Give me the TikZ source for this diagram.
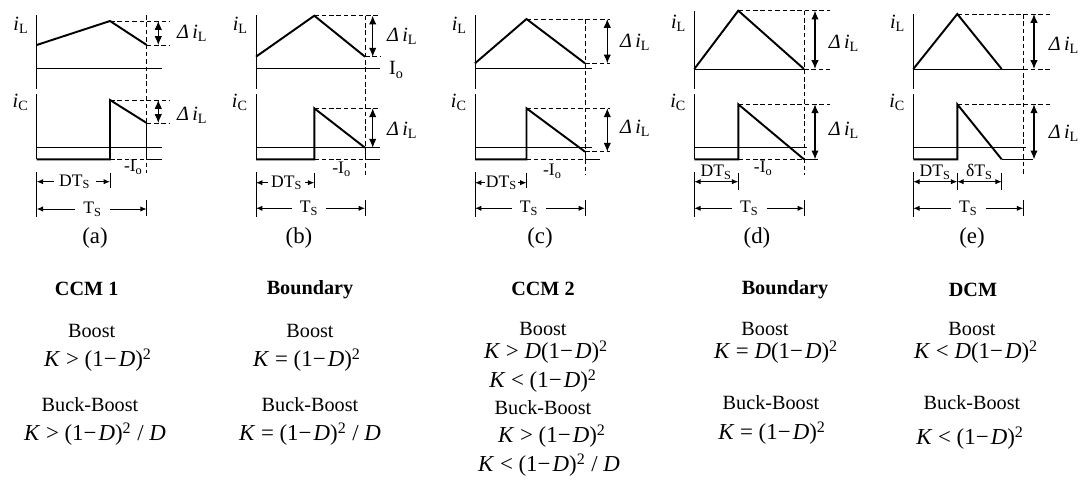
\documentclass[tikz,border=0pt]{standalone}
\usepackage{fontspec}
\setmainfont{Liberation Serif}
\usetikzlibrary{arrows.meta}
\newcommand{\iL}{\textit{i}\textsubscript{L}}
\newcommand{\iC}{\textit{i}\textsubscript{C}}
\newcommand{\dIL}{\textit{Δ\,i}\textsubscript{L}}
\newcommand{\Ts}{T\textsubscript{S}}
\newcommand{\DTs}{DT\textsubscript{S}}
\newcommand{\mIo}{-I\textsubscript{o}}
\newcommand{\Km}{\textit{K}}
\newcommand{\Dm}{\textit{D}}
\newcommand{\sqr}{\textsuperscript{2}}
\newcommand{\omD}{(1−\kern1.2pt\Dm)}
\tikzset{
  wave/.style={line width=1.1pt},
  thinl/.style={line width=0.55pt},
  guide/.style={line width=0.55pt,dash pattern=on 2.6pt off 1.6pt},
  swing/.style={line width=0.6pt,{Latex[length=5pt,width=4.2pt]}-{Latex[length=5pt,width=4.2pt]}},
  dimarr/.style={line width=0.55pt,-{Latex[length=3.6pt,width=3pt]}},
  dimboth/.style={line width=0.55pt,{Latex[length=3.6pt,width=3pt]}-{Latex[length=3.6pt,width=3pt]}},
  lbl/.style={font=\fontsize{11.5}{13}\selectfont,inner sep=1pt},
  dimtxt/.style={font=\fontsize{10}{12}\selectfont,inner ysep=1pt},
  panelcap/.style={font=\fontsize{13}{15}\selectfont},
  head/.style={font=\fontsize{11.5}{13}\selectfont\bfseries},
  body/.style={font=\fontsize{11.5}{13}\selectfont},
  formula/.style={font=\fontsize{13}{15}\selectfont}
}
\begin{document}
\begin{tikzpicture}[x=0.02cm,y=-0.02cm]
\useasboundingbox (0,0) rectangle (1083,480);

% (a)
\begin{scope}[shift={(36.7,0)}]
  \coordinate (Sa) at (0,45);
  \coordinate (Pa) at (73.3,21);
  \coordinate (Ea) at (110,45);
  \coordinate (Ca) at (73.3,100);
  \coordinate (Fa) at (110,123);
  \draw[thinl] (0,15) -- (0,89);
  \draw[thinl] (0,94) -- (0,159.3);
  \draw[thinl] (0,172) -- (0,217);
  \draw[thinl] (0,68.3) -- (125,68.3);
  \draw[thinl] (0,147.7) -- (125,147.7);
  \draw[thinl] (Fa) -- (110,159.3) -- (125,159.3);
  \draw[wave] (Sa) -- (Pa) -- (Ea);
  \draw[wave] (0,159.3) -- (73.3,159.3) -- (Ca) -- (Fa);
  \draw[guide] (Pa) -- (133.3,21);
  \draw[guide] (Ea) -- (133.3,45);
  \draw[guide] (Ca) -- (133.3,100);
  \draw[guide] (Fa) -- (133.3,123);
  \draw[guide] (73.3,159.3) -- (110,159.3);
  \draw[guide] (110,15) -- (110,173);
  \draw[swing] (121.6,21) -- (121.6,45);
  \draw[swing] (121.6,100) -- (121.6,123);
  \draw[thinl] (73.3,173) -- (73.3,188);
  \draw[thinl] (110,200) -- (110,216);
  \node[lbl,anchor=east] (iLa) at (-6,25) {\iL};
  \node[lbl,anchor=east] (iCa) at (-6,102) {\iC};
  \node[lbl,anchor=west] (dLa) at (138.3,33) {\dIL};
  \node[lbl,anchor=west] (dCa) at (138.3,115) {\dIL};
  \node[dimtxt] (Ioa) at (96.7,167) {\mIo};
  \node[dimtxt,inner xsep=3pt] (DTa) at (38,181.7) {\DTs};
  \draw[dimarr] (DTa.west) -- (0,181.7);
  \draw[dimarr] (DTa.east) -- (73.3,181.7);
  \node[dimtxt,inner xsep=4.5pt] (Ta) at (56,209) {\Ts};
  \draw[dimarr] (Ta.west) -- (0,209);
  \draw[dimarr] (Ta.east) -- (110,209);
  \node[panelcap] (capa) at (58.3,238) {(a)};
\end{scope}

% (b)
\begin{scope}[shift={(256,0)}]
  \coordinate (Sb) at (0,56.7);
  \coordinate (Pb) at (58.3,15.7);
  \coordinate (Eb) at (109,56.7);
  \coordinate (Cb) at (58.3,108.3);
  \coordinate (Fb) at (109,147.7);
  \draw[thinl] (0,15) -- (0,89);
  \draw[thinl] (0,94) -- (0,159.3);
  \draw[thinl] (0,172) -- (0,217);
  \draw[thinl] (0,68.3) -- (124,68.3);
  \draw[thinl] (0,147.7) -- (124,147.7);
  \draw[thinl] (Fb) -- (109,159.3) -- (124,159.3);
  \draw[wave] (Sb) -- (Pb) -- (Eb);
  \draw[wave] (0,159.3) -- (58.3,159.3) -- (Cb) -- (Fb);
  \draw[guide] (Pb) -- (124,15.7);
  \draw[guide] (Eb) -- (124,56.7);
  \draw[guide] (Cb) -- (124,108.3);
  \draw[guide] (58.3,159.3) -- (109,159.3);
  \draw[guide] (109,15.7) -- (109,175);
  \draw[swing] (116.7,15.7) -- (116.7,56.7);
  \draw[swing] (116.7,108.3) -- (116.7,147.7);
  \draw[thinl] (58.3,173) -- (58.3,188);
  \draw[thinl] (109,200) -- (109,216);
  \node[lbl,anchor=east] (iLb) at (-6,25) {\iL};
  \node[lbl,anchor=east] (iCb) at (-6,102) {\iC};
  \node[lbl,anchor=west] (Iob) at (131,70) {I\textsubscript{o}};
  \node[lbl,anchor=west] (dLb) at (129,36.7) {\dIL};
  \node[lbl,anchor=west] (dCb) at (129,130) {\dIL};
  \node[dimtxt] (mIob) at (85.7,169) {\mIo};
  \node[dimtxt,inner xsep=1.5pt] (DTb) at (30.7,182.7) {\DTs};
  \draw[dimarr] (DTb.west) -- (0,182.7);
  \draw[dimarr] (DTb.east) -- (58.3,182.7);
  \node[dimtxt,inner xsep=4.5pt] (Tb) at (53,208.3) {\Ts};
  \draw[dimarr] (Tb.west) -- (0,208.3);
  \draw[dimarr] (Tb.east) -- (109,208.3);
  \node[panelcap] (capb) at (43,238) {(b)};
\end{scope}

% (c)
\begin{scope}[shift={(475,0)}]
  \coordinate (Sc) at (0,63.3);
  \coordinate (Pc) at (51.5,19);
  \coordinate (Ec) at (110,63.3);
  \coordinate (Cc) at (51.5,108.3);
  \coordinate (Fc) at (110,151.7);
  \draw[thinl] (0,15) -- (0,89);
  \draw[thinl] (0,94) -- (0,159.3);
  \draw[thinl] (0,172) -- (0,217);
  \draw[thinl] (0,68.3) -- (117.3,68.3);
  \draw[thinl] (0,147.7) -- (117.3,147.7);
  \draw[thinl] (Fc) -- (110,159.3) -- (125,159.3);
  \draw[wave] (Sc) -- (Pc) -- (Ec);
  \draw[wave] (0,159.3) -- (51.5,159.3) -- (Cc) -- (Fc);
  \draw[guide] (Pc) -- (135,19);
  \draw[guide] (Ec) -- (135,63.3);
  \draw[guide] (Cc) -- (135,108.3);
  \draw[guide] (Fc) -- (135,151.7);
  \draw[guide] (51.5,159.3) -- (110,159.3);
  \draw[guide] (110,19) -- (110,175);
  \draw[swing] (132.3,19) -- (132.3,63.3);
  \draw[swing] (132.3,108.3) -- (132.3,151.7);
  \draw[thinl] (51.5,173) -- (51.5,188);
  \draw[thinl] (110,200) -- (110,216);
  \node[lbl,anchor=east] (iLc) at (-6,25) {\iL};
  \node[lbl,anchor=east] (iCc) at (-6,102) {\iC};
  \node[lbl,anchor=west] (dLc) at (143,42) {\dIL};
  \node[lbl,anchor=west] (dCc) at (143,128) {\dIL};
  \node[dimtxt] (mIoc) at (77.5,171) {\mIo};
  \node[dimtxt,inner xsep=0.5pt] (DTc) at (26.5,182.7) {\DTs};
  \draw[dimarr] (DTc.west) -- (0,182.7);
  \draw[dimarr] (DTc.east) -- (51.5,182.7);
  \node[dimtxt,inner xsep=4.5pt] (Tc) at (54,208.3) {\Ts};
  \draw[dimarr] (Tc.west) -- (0,208.3);
  \draw[dimarr] (Tc.east) -- (110,208.3);
  \node[panelcap] (capc) at (65,238) {(c)};
\end{scope}

% (d)
\begin{scope}[shift={(694.3,0)}]
  \coordinate (Sd) at (0,69);
  \coordinate (Pd) at (44,10.7);
  \coordinate (Ed) at (109.7,69);
  \coordinate (Cd) at (44,104.3);
  \coordinate (Fd) at (109.7,159.3);
  \draw[thinl] (0,10.7) -- (0,89);
  \draw[thinl] (0,94) -- (0,159.3);
  \draw[thinl] (0,172) -- (0,217);
  \draw[thinl] (Sd) -- (Ed);
  \draw[thinl] (0,147.7) -- (112.4,147.7);
  \draw[thinl] (Fd) -- (123.7,159.3);
  \draw[wave] (Sd) -- (Pd) -- (Ed);
  \draw[wave] (0,159.3) -- (44,159.3) -- (Cd) -- (Fd);
  \draw[guide] (Pd) -- (135.7,10.7);
  \draw[guide] (Ed) -- (135.7,69);
  \draw[guide] (Cd) -- (135.7,104.3);
  \draw[guide] (44,159.3) -- (Fd);
  \draw[guide] (109.7,10.7) -- (109.7,175);
  \draw[swing] (120.7,10.7) -- (120.7,69);
  \draw[swing] (120.7,104.3) -- (120.7,159.3);
  \draw[thinl] (44,173) -- (44,190);
  \draw[thinl] (109.7,200) -- (109.7,216);
  \node[lbl,anchor=east] (iLd) at (-6,23) {\iL};
  \node[lbl,anchor=east] (iCd) at (-6,102) {\iC};
  \node[lbl,anchor=west] (dLd) at (132.4,43) {\dIL};
  \node[lbl,anchor=west] (dCd) at (132.4,130) {\dIL};
  \node[dimtxt] (mIod) at (69,168) {\mIo};
  \draw[dimboth] (0,181.7) -- (44,181.7);
  \node[dimtxt] (DTd) at (22,172) {\DTs};
  \node[dimtxt,inner xsep=4.5pt] (Td) at (55,208.3) {\Ts};
  \draw[dimarr] (Td.west) -- (0,208.3);
  \draw[dimarr] (Td.east) -- (109.7,208.3);
  \node[panelcap] (capd) at (62.7,238) {(d)};
\end{scope}

% (e)
\begin{scope}[shift={(913.3,0)}]
  \coordinate (Se) at (0,69);
  \coordinate (Pe) at (44,14);
  \coordinate (Ee) at (88.4,69);
  \coordinate (Ce) at (44,104.3);
  \coordinate (Fe) at (88.4,159.3);
  \draw[thinl] (0,14) -- (0,89);
  \draw[thinl] (0,94) -- (0,159.3);
  \draw[thinl] (0,172) -- (0,217);
  \draw[thinl] (Se) -- (110,69);
  \draw[thinl] (0,147.7) -- (112.7,147.7);
  \draw[thinl] (Fe) -- (119.4,159.3);
  \draw[wave] (Se) -- (Pe) -- (Ee);
  \draw[wave] (0,159.3) -- (44,159.3) -- (Ce) -- (Fe);
  \draw[guide] (Pe) -- (136.7,14);
  \draw[guide] (110,69) -- (136.7,69);
  \draw[guide] (Ce) -- (136.7,104.3);
  \draw[guide] (110,14) -- (110,175);
  \draw[swing] (120.7,14) -- (120.7,69);
  \draw[swing] (120.7,104.3) -- (120.7,159.3);
  \draw[thinl] (44,173) -- (44,190);
  \draw[thinl] (88.4,173) -- (88.4,190);
  \draw[thinl] (110,200) -- (110,216);
  \node[lbl,anchor=east] (iLe) at (-6,23) {\iL};
  \node[lbl,anchor=east] (iCe) at (-6,102) {\iC};
  \node[lbl,anchor=west] (dLe) at (133.4,45) {\dIL};
  \node[lbl,anchor=west] (dCe) at (133.4,133) {\dIL};
  \draw[dimboth] (0,181.7) -- (44,181.7);
  \draw[dimboth] (44,181.7) -- (88.4,181.7);
  \node[dimtxt] (DTe) at (22,172) {\DTs};
  \node[dimtxt] (dTe) at (66.2,172) {δT\textsubscript{S}};
  \node[dimtxt,inner xsep=4.5pt] (Te) at (55,208.3) {\Ts};
  \draw[dimarr] (Te.west) -- (0,208.3);
  \draw[dimarr] (Te.east) -- (110,208.3);
  \node[panelcap] (cape) at (58.7,238) {(e)};
\end{scope}

% conditions
\node[head] (h1) at (86.7,289) {CCM 1};
\node[body] (b1) at (91.7,331) {Boost};
\node[formula] (f1) at (98,360) {\Km\ > \omD\sqr};
\node[body] (bb1) at (90,405) {Buck-Boost};
\node[formula] (g1) at (95,434) {\Km\ > \omD\sqr\ / \Dm};

\node[head] (h2) at (310,290) {Boundary};
\node[body] (b2) at (310,331) {Boost};
\node[formula] (f2) at (307,360) {\Km\ = \omD\sqr};
\node[body] (bb2) at (310,405) {Buck-Boost};
\node[formula] (g2) at (310,434) {\Km\ = \omD\sqr\ / \Dm};

\node[head] (h3) at (543,289) {CCM 2};
\node[body] (b3) at (543,329) {Boost};
\node[formula] (f3) at (546,352) {\Km\ > \Dm\omD\sqr};
\node[formula] (f3b) at (543,381) {\Km\ < \omD\sqr};
\node[body] (bb3) at (543,408) {Buck-Boost};
\node[formula] (g3) at (552,436) {\Km\ > \omD\sqr};
\node[formula] (g3b) at (549,465) {\Km\ < \omD\sqr\ / \Dm};

\node[head] (h4) at (785,290) {Boundary};
\node[body] (b4) at (765,329) {Boost};
\node[formula] (f4) at (776,352) {\Km\ = \Dm\omD\sqr};
\node[body] (bb4) at (771,403) {Buck-Boost};
\node[formula] (g4) at (772,433) {\Km\ = \omD\sqr};

\node[head] (h5) at (973,290) {DCM};
\node[body] (b5) at (972,329) {Boost};
\node[formula] (f5) at (976,352) {\Km\ < \Dm\omD\sqr};
\node[body] (bb5) at (972,403) {Buck-Boost};
\node[formula] (g5) at (970,438) {\Km\ < \omD\sqr};
\end{tikzpicture}
\end{document}
